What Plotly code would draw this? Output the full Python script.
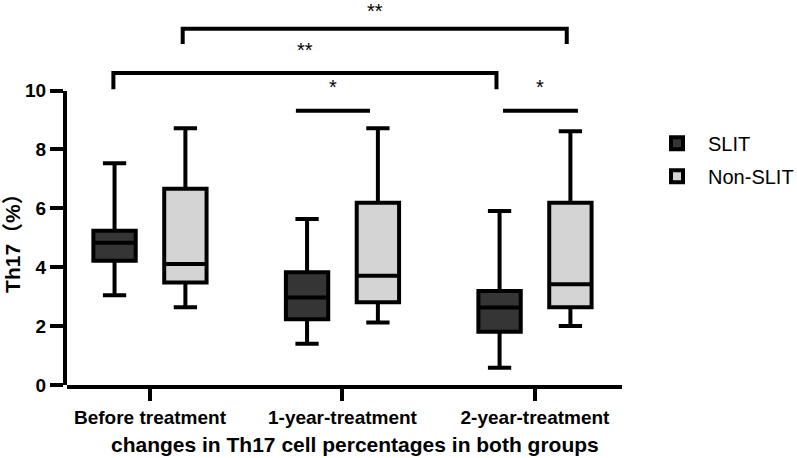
import plotly.graph_objects as go

# ---- data ----
categories = ["Before treatment", "1-year-treatment", "2-year-treatment"]
groups = ["SLIT", "Non-SLIT"]

slit_lower = [3.05, 1.40, 0.59]
slit_q1 = [4.22, 2.23, 1.81]
slit_median = [4.83, 2.97, 2.63]
slit_q3 = [5.24, 3.83, 3.19]
slit_upper = [7.53, 5.64, 5.91]

non_lower = [2.64, 2.12, 2.00]
non_q1 = [3.48, 2.81, 2.64]
non_median = [4.11, 3.71, 3.42]
non_q3 = [6.67, 6.19, 6.19]
non_upper = [8.72, 8.72, 8.62]

y_ticks = [0, 2, 4, 6, 8, 10]

# significance brackets (x in category units, y in data units)
sig_x0 = [0.170, -0.190, 0.758, 1.834]
sig_x1 = [2.165, 1.800, 1.143, 2.223]
sig_y = [12.10, 10.60, 9.32, 9.32]
sig_drop = [0.52, 0.55, 0.0, 0.0]
sig_labels = ["**", "**", "*", "*"]

# ---- style ----
FONT = "Arial, 'Liberation Sans', 'Noto Sans CJK SC', sans-serif"
Y_MAX = 13.01          # headroom above the 0-10 axis for the brackets
offset = 0.184
box_w = 0.22
lw = 4
colors = ["#353535", "#d4d4d4"]
label_gap = [0.62, 0.79, 0.79, 0.79]
tickfont = dict(family=FONT, size=19, color="black", weight="bold")

fig = go.Figure()
series = [
    (slit_lower, slit_q1, slit_median, slit_q3, slit_upper, -offset),
    (non_lower, non_q1, non_median, non_q3, non_upper, offset),
]
for (lo, q1, med, q3, up, off), name, col in zip(series, groups, colors):
    fig.add_trace(go.Box(
        x=[i + off for i in range(len(categories))],
        lowerfence=lo, q1=q1, median=med, q3=q3, upperfence=up,
        name=name, legendgroup=name, width=box_w, whiskerwidth=0.55,
        fillcolor=col, line=dict(color="black", width=lw),
        boxpoints=False, hoverinfo="skip",
    ))

# empty helper trace so the visible 0-10 value axis (y2) gets drawn
fig.add_trace(go.Scatter(x=[None], y=[None], xaxis="x", yaxis="y2",
                         mode="markers", showlegend=False, hoverinfo="skip"))

shapes = []
annotations = []
for x0, x1, y, d, lab, g in zip(sig_x0, sig_x1, sig_y, sig_drop, sig_labels, label_gap):
    if d > 0:
        path = f"M {x0},{y - d} L {x0},{y} L {x1},{y} L {x1},{y - d}"
        shapes.append(dict(type="path", xref="x", yref="y", path=path,
                           line=dict(color="black", width=lw)))
    else:
        shapes.append(dict(type="line", xref="x", yref="y", x0=x0, x1=x1, y0=y, y1=y,
                           line=dict(color="black", width=lw)))
    annotations.append(dict(x=(x0 + x1) / 2, y=y + g, xref="x", yref="y",
                            text=lab, showarrow=False, yanchor="middle",
                            font=dict(family=FONT, size=20, color="black")))

annotations.append(dict(text="Th17（%）", textangle=-90, xref="paper", yref="paper",
                        x=-0.0973, y=0.384, xanchor="center", yanchor="middle",
                        showarrow=False,
                        font=dict(family=FONT, size=21, color="black", weight="bold")))
annotations.append(dict(text="changes in Th17 cell percentages in both groups",
                        xref="paper", yref="paper", x=0.519, y=-0.155,
                        xanchor="center", yanchor="middle", showarrow=False,
                        font=dict(family=FONT, size=21, color="black", weight="bold")))

fig.update_layout(
    width=797, height=458,
    margin=dict(l=67, r=175, t=2, b=73, autoexpand=False),
    paper_bgcolor="white", plot_bgcolor="rgba(0,0,0,0)",
    boxmode="overlay",
    showlegend=True,
    legend=dict(x=1.0433, y=0.682, xanchor="left", yanchor="top",
                font=dict(family=FONT, size=20, color="black"),
                bgcolor="rgba(0,0,0,0)", tracegroupgap=4, itemwidth=52),
    shapes=shapes, annotations=annotations,
    xaxis=dict(range=[-0.431, 2.452], tickvals=list(range(len(categories))),
               ticktext=categories, showline=True, linecolor="black", linewidth=lw,
               ticks="outside", ticklen=12, tickwidth=3.5, tickcolor="black",
               showgrid=False, zeroline=False, anchor="y", tickfont=tickfont),
    # data axis (full height, hidden) carrying boxes and brackets
    yaxis=dict(range=[0, Y_MAX], domain=[0, 1], visible=False,
               showgrid=False, zeroline=False),
    # visible value axis: 0-10 only, same pixel scale as the data axis
    yaxis2=dict(range=[y_ticks[0], y_ticks[-1]], domain=[0, y_ticks[-1] / Y_MAX],
                anchor="x", tickvals=y_ticks, showline=True, linecolor="black",
                linewidth=lw, ticks="outside", ticklen=13, tickwidth=3.5,
                tickcolor="black", showgrid=False, zeroline=False, tickfont=tickfont),
)

fig.write_html("out.html")
